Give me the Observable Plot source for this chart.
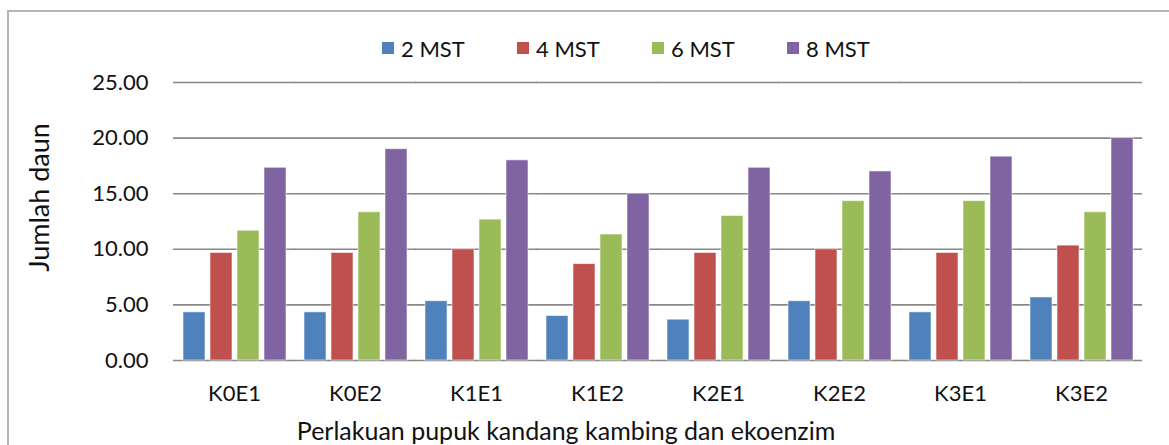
<!DOCTYPE html>
<html>
<head>
<meta charset="utf-8">
<script src="https://cdn.jsdelivr.net/npm/d3@7"></script>
<script src="https://cdn.jsdelivr.net/npm/@observablehq/plot@0.6"></script>
<style>
  html, body { margin: 0; padding: 0; background: #fff; }
  #wrap { position: relative; width: 1169px; height: 445px; overflow: hidden; font-family: Lato, "Open Sans", sans-serif; }
  #border { position: absolute; left: 7px; top: 10px; width: 1200px; height: 500px; border-left: 2px solid #b5b5b5; border-top: 2px solid #b5b5b5; box-sizing: border-box; }
  #legend { position: absolute; left: 382px; top: 34px; display: flex; font-size: 22px; color: #111; }
  .item { width: 135px; display: flex; align-items: center; height: 28px; }
  .sw { width: 12px; height: 12px; margin-right: 7px; }
  #chart { position: absolute; left: 0; top: 0; }
</style>
</head>
<body>
<div id="wrap">
  <div id="border"></div>
  <div id="chart"></div>
  <div id="legend"></div>
</div>
<script>
const categories = ["K0E1","K0E2","K1E1","K1E2","K2E1","K2E2","K3E1","K3E2"];
const series = ["2 MST","4 MST","6 MST","8 MST"];
const mst2 = [4.33,4.33,5.33,4.00,3.67,5.33,4.33,5.67];
const mst4 = [9.67,9.67,10.00,8.67,9.67,10.00,9.67,10.33];
const mst6 = [11.67,13.33,12.67,11.33,13.00,14.33,14.33,13.33];
const mst8 = [17.33,19.00,18.00,15.00,17.33,17.00,18.33,20.00];
const colors = ["#4F81BD","#C0504D","#9BBB59","#8064A2"];
const yTicks = [0,5,10,15,20,25];

const seriesValues = [mst2, mst4, mst6, mst8];
const data = [];
categories.forEach((c, i) => {
  series.forEach((s, j) => data.push({group: c, series: s, value: seriesValues[j][i]}));
});

const chart = Plot.plot({
  width: 1169,
  height: 445,
  marginLeft: 172,
  marginRight: 26,
  marginTop: 82,
  marginBottom: 85,
  style: {fontFamily: "Lato, 'Open Sans', sans-serif", fontSize: "22px", color: "#111", background: "transparent"},
  fx: {domain: categories, paddingInner: 0.14, paddingOuter: 0.07, label: null},
  x: {domain: series, paddingInner: 0.2, paddingOuter: 0, axis: null},
  y: {domain: [0, 25], label: null},
  color: {domain: series, range: colors},
  marks: [
    Plot.ruleY(yTicks, {stroke: "#888", strokeWidth: 1.6, insetLeft: -9, insetRight: -9}),
    Plot.barY(data, {fx: "group", x: "series", y: "value", fill: "series", stroke: "#fff", strokeOpacity: 0.55, strokeWidth: 1}),
    Plot.axisY(yTicks, {tickFormat: d3.format(".2f"), tickSize: 0, tickPadding: 34, fontSize: 22, label: null}),
    Plot.axisFx({anchor: "bottom", tickSize: 0, tickPadding: 25, fontSize: 22, label: null}),
    Plot.text(["Jumlah daun"], {facet: "super", frameAnchor: "left", textAnchor: "middle", lineAnchor: "middle", rotate: -90, dx: -142, dy: -24, fontSize: 27, fill: "#111"}),
    Plot.text(["Perlakuan pupuk kandang kambing dan ekoenzim"], {facet: "super", frameAnchor: "bottom", lineAnchor: "middle", dx: -92, dy: 71, fontSize: 25, fill: "#111"})
  ]
});
document.getElementById("chart").appendChild(chart);

const legend = document.getElementById("legend");
series.forEach((s, i) => {
  const item = document.createElement("div");
  item.className = "item";
  const sw = document.createElement("div");
  sw.className = "sw";
  sw.style.background = colors[i];
  const t = document.createElement("span");
  t.textContent = s;
  item.appendChild(sw);
  item.appendChild(t);
  legend.appendChild(item);
});
</script>
</body>
</html>
